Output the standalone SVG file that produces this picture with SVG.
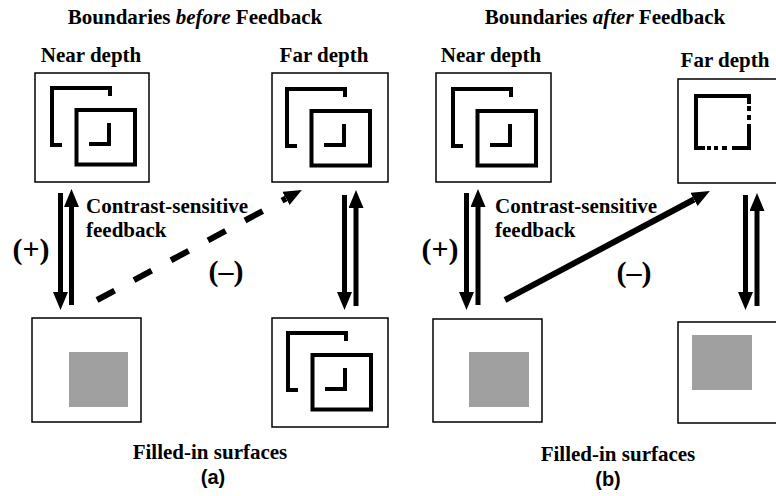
<svg xmlns="http://www.w3.org/2000/svg" width="776" height="496" viewBox="0 0 776 496">
<style>
.t{font-family:"Liberation Serif","Times New Roman",serif;font-weight:bold;font-size:21px;fill:#000}
.s{font-family:"Liberation Serif","Times New Roman",serif;font-weight:bold;font-size:30px;fill:#000}
.p{font-family:"Liberation Sans",Arial,sans-serif;font-weight:bold;font-size:20px;fill:#000}
.box{fill:#fff;stroke:#000;stroke-width:1.5}
.fig{fill:none;stroke:#000;stroke-width:4}
.gray{fill:#a0a0a0}
.sh{stroke:#000;stroke-width:5;fill:none}
.fb{stroke:#000;stroke-width:6;fill:none}
</style>
<defs>
<marker id="ah" markerUnits="userSpaceOnUse" markerWidth="20" markerHeight="16" refX="0" refY="7.5" orient="auto">
<path d="M0,0 L18,7.5 L0,15 z" fill="#000"/>
</marker>
<g id="pair">
<path class="fig" d="M58,8 V0 H0 V57 H10"/>
<rect class="fig" x="24.5" y="22" width="58.5" height="54.5"/>
<path class="fig" d="M57,35 V56 H37"/>
</g>
</defs>
<rect width="776" height="496" fill="#fff"/>

<text class="t" x="195" y="24" text-anchor="middle">Boundaries <tspan font-style="italic">before</tspan> Feedback</text>
<text class="t" x="605" y="24" text-anchor="middle">Boundaries <tspan font-style="italic">after</tspan> Feedback</text>

<g id="a-near-boundary">
<text class="t" x="91" y="62" text-anchor="middle">Near depth</text>
<rect class="box" x="35" y="73" width="114" height="109"/>
<use href="#pair" x="52" y="88"/>
</g>
<g id="a-far-boundary">
<text class="t" x="324" y="62" text-anchor="middle">Far depth</text>
<rect class="box" x="272" y="73" width="116" height="109"/>
<use href="#pair" x="287" y="89"/>
</g>
<g id="a-near-surface">
<rect class="box" x="32" y="318" width="109" height="104"/>
<rect class="gray" x="69" y="352" width="59" height="55"/>
</g>
<g id="a-far-surface">
<rect class="box" x="272" y="318" width="116" height="109"/>
<use href="#pair" x="288" y="333"/>
</g>

<g id="b-near-boundary">
<text class="t" x="491" y="62" text-anchor="middle">Near depth</text>
<rect class="box" x="436" y="73" width="115" height="109"/>
<use href="#pair" x="453" y="89"/>
</g>
<g id="b-far-boundary">
<text class="t" x="725" y="67" text-anchor="middle">Far depth</text>
<rect class="box" x="678" y="79" width="112" height="104"/>
<path class="fig" d="M705,148 H696 V96 H749 V104 M749,106 V111 M749,115 V120 M749,124 V148 H732 M727,148 H722 M718,148 H714 M711,148 H707"/>
</g>
<g id="b-near-surface">
<rect class="box" x="433" y="319" width="109" height="103"/>
<rect class="gray" x="469" y="352" width="60" height="55"/>
</g>
<g id="b-far-surface">
<rect class="box" x="678" y="322" width="112" height="101"/>
<rect class="gray" x="692" y="335" width="60" height="55"/>
</g>

<g id="connectors">
<line class="sh" x1="60.5" y1="193" x2="60.5" y2="292" marker-end="url(#ah)"/>
<line class="sh" x1="71.5" y1="305" x2="71.5" y2="207" marker-end="url(#ah)"/>
<line class="sh" x1="344.5" y1="195" x2="344.5" y2="292" marker-end="url(#ah)"/>
<line class="sh" x1="356" y1="306" x2="356" y2="208" marker-end="url(#ah)"/>
<line class="fb" x1="97" y1="300" x2="286" y2="198.5" stroke-dasharray="20 22" marker-end="url(#ah)"/>

<line class="sh" x1="466.5" y1="193" x2="466.5" y2="292" marker-end="url(#ah)"/>
<line class="sh" x1="478" y1="305" x2="478" y2="207" marker-end="url(#ah)"/>
<line class="sh" x1="745.5" y1="195" x2="745.5" y2="292" marker-end="url(#ah)"/>
<line class="sh" x1="757" y1="306" x2="757" y2="211" marker-end="url(#ah)"/>
<line class="fb" x1="505" y1="300" x2="694" y2="199.5" marker-end="url(#ah)"/>
</g>

<g id="labels">
<text class="t" x="86" y="213">Contrast-sensitive</text>
<text class="t" x="86" y="237">feedback</text>
<text class="s" x="31" y="259" text-anchor="middle">(+)</text>
<text class="s" x="226" y="281" text-anchor="middle">(–)</text>
<text class="t" x="495" y="213">Contrast-sensitive</text>
<text class="t" x="495" y="237">feedback</text>
<text class="s" x="440" y="259" text-anchor="middle">(+)</text>
<text class="s" x="634" y="282" text-anchor="middle">(–)</text>
<text class="t" x="210" y="459" text-anchor="middle">Filled-in surfaces</text>
<text class="p" x="213" y="484" text-anchor="middle">(a)</text>
<text class="t" x="618" y="461" text-anchor="middle">Filled-in surfaces</text>
<text class="p" x="608" y="486" text-anchor="middle">(b)</text>
</g>
</svg>
